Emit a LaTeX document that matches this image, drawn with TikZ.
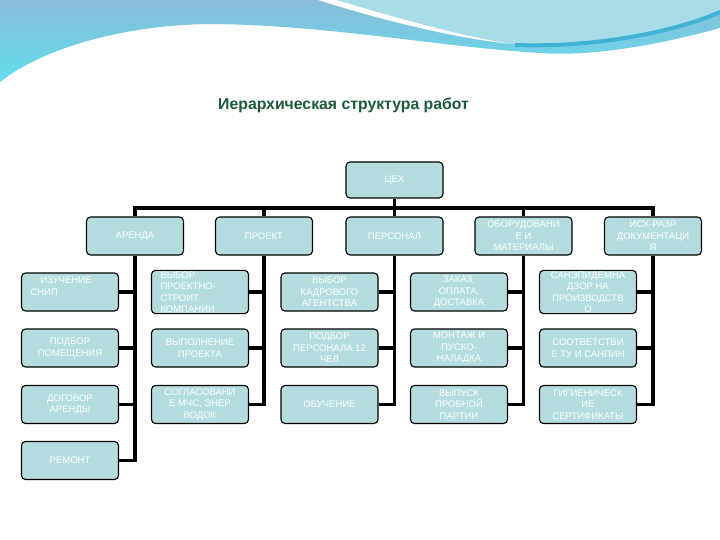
\documentclass[tikz,border=0pt]{standalone}
\usepackage{fontspec}
\setmainfont{Liberation Sans}
\definecolor{boxfill}{RGB}{180,220,222}
\definecolor{titlecol}{RGB}{28,90,60}
\definecolor{bandA}{RGB}{136,188,216}
\definecolor{bandB}{RGB}{98,222,238}
\definecolor{lightreg}{RGB}{168,221,232}
\definecolor{darkstroke}{RGB}{64,178,214}
\pgfdeclarelayer{back}
\pgfdeclarelayer{bg}
\pgfsetlayers{back,bg,main}
\begin{document}
\begin{tikzpicture}[x=1pt,y=-1pt,
  box/.style={draw=black, line width=1.1pt, rounded corners=4pt, fill=boxfill,
    minimum width=97pt, minimum height=38pt, text=white,
    font=\fontsize{9.5}{11.5}\selectfont, align=center, inner sep=1pt},
  leftbox/.style={box, align=left, text width=79pt},
  link/.style={line width=3.5pt, black}]
\useasboundingbox (0,0) rectangle (720,540);
\begin{pgfonlayer}{back}
\fill[white] (0,0) rectangle (720,540);
% header wave
\shade[top color=bandA, bottom color=bandB]
  (0,0) -- (720,0) -- (720,28) .. controls (640,50) and (580,56) .. (540,53)
  .. controls (440,47) and (330,25) .. (210,24)
  .. controls (120,25) and (40,50) .. (0,82) -- cycle;
\fill[lightreg] (321,0) .. controls (400,25) and (470,40) .. (515,44)
  .. controls (600,48) and (680,30) .. (720,10) -- (720,0) -- cycle;
\fill[white] (318,0) .. controls (400,26) and (470,40) .. (512,44)
  .. controls (470,38) and (410,22) .. (336,0) -- cycle;
\draw[darkstroke, line width=4pt] (515,45) .. controls (600,48) and (680,30) .. (720,12);
\end{pgfonlayer}
% title
\node[font=\fontsize{15.8}{19}\selectfont\bfseries, text=titlecol, anchor=west, inner sep=0pt] (title) at (218,105) {Иерархическая структура работ};
% level 0 and 1
\node[box, minimum height=36pt] (cex) at (394.5,180) {ЦЕХ};
\node[box] (ar) at (135,236) {АРЕНДА};
\node[box] (pr) at (264,236) {ПРОЕКТ};
\node[box] (pe) at (394.5,236) {ПЕРСОНАЛ};
\node[box] (ob) at (523.5,236) {ОБОРУДОВАНИ\\Е И\\МАТЕРИАЛЫ};
\node[box] (is) at (653,236) {ИСХ-РАЗР\\ДОКУМЕНТАЦИ\\Я};
% level 2
\node[leftbox] (a1) at (70,292) {\hspace*{10pt}ИЗУЧЕНИЕ\\СНИП\\\mbox{}};
\node[box] (a2) at (70,348) {ПОДБОР\\ПОМЕЩЕНИЯ};
\node[box] (a3) at (70,404.5) {ДОГОВОР\\АРЕНДЫ};
\node[box] (a4) at (70,460.5) {РЕМОНТ};
\node[leftbox] (p1) at (200,292) {ВЫБОР\\ПРОЕКТНО-\\СТРОИТ\\КОМПАНИИ};
\node[box] (p2) at (200,348) {ВЫПОЛНЕНИЕ\\ПРОЕКТА};
\node[box] (p3) at (200,404.5) {СОГЛАСОВАНИ\\Е МЧС, ЭНЕР\\ВОДОК};
\node[box] (e1) at (329.5,292) {ВЫБОР\\КАДРОВОГО\\АГЕНТСТВА};
\node[box] (e2) at (329.5,348) {ПОДБОР\\ПЕРСОНАЛА 12\\ЧЕЛ};
\node[box] (e3) at (329.5,404.5) {ОБУЧЕНИЕ};
\node[box] (o1) at (459,292) {ЗАКАЗ,\\ОПЛАТА,\\ДОСТАВКА};
\node[box] (o2) at (459,348) {МОНТАЖ И\\ПУСКО-\\НАЛАДКА};
\node[box] (o3) at (459,404.5) {ВЫПУСК\\ПРОБНОЙ\\ПАРТИИ};
\node[box] (i1) at (588,292) {САНЭПИДЕМНА\\ДЗОР НА\\ПРОИЗВОДСТВ\\О};
\node[box] (i2) at (588,348) {СООТВЕТСТВИ\\Е ТУ И САНПИН};
\node[box] (i3) at (588,404.5) {ГИГИЕНИЧЕСК\\ИЕ\\СЕРТИФИКАТЫ};
% connectors
\begin{pgfonlayer}{bg}
\coordinate (bus) at (394.5,208);
\draw[link] (cex.south) -- (bus);
\draw[link] (ar.north) -- (ar.north |- bus) -- (is.north |- bus) -- (is.north);
\foreach \n in {pr,pe,ob} \draw[link] (\n.north |- bus) -- (\n.north);
\foreach \n/\c in {ar/a1,ar/a2,ar/a3,ar/a4,pr/p1,pr/p2,pr/p3,pe/e1,pe/e2,pe/e3,ob/o1,ob/o2,ob/o3,is/i1,is/i2,is/i3}
  \draw[link] (\n.south) |- (\c.east);
\end{pgfonlayer}
\end{tikzpicture}
\end{document}
